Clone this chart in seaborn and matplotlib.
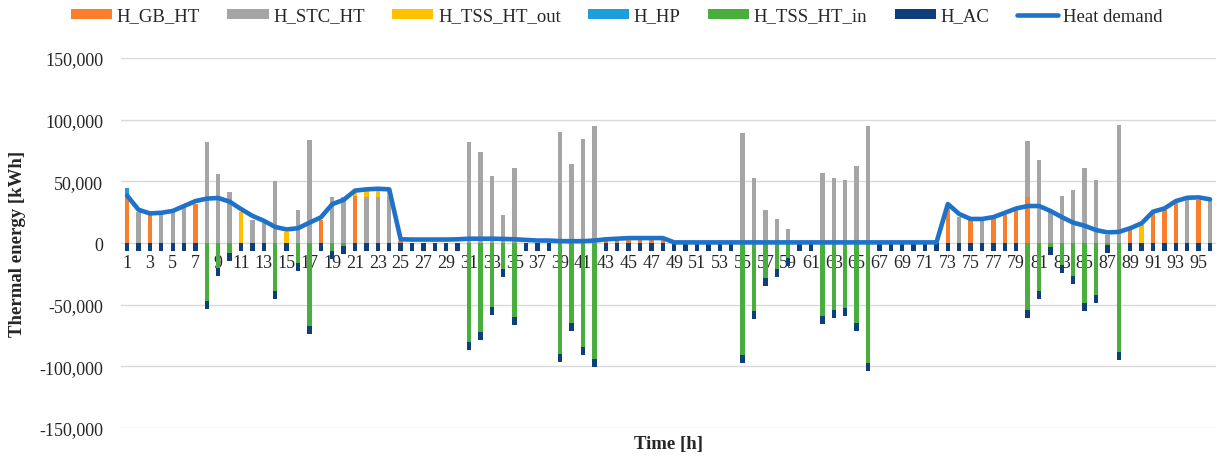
import numpy as np
import pandas as pd
import seaborn as sns
import matplotlib.pyplot as plt
from matplotlib.patches import Patch
from matplotlib.lines import Line2D
from matplotlib.ticker import FuncFormatter

# ---- data (kWh per hour) ----
hours = list(range(1, 97))

h_gb_ht = [37500, 0, 23000, 0, 0, 0, 32000, 0, 0, 0,
           0, 0, 0, 0, 0, 0, 0, 18600, 0, 0,
           38500, 0, 0, 0, 1500, 0, 0, 0, 0, 0,
           0, 0, 0, 0, 0, 0, 0, 0, 0, 0,
           0, 0, 3000, 3500, 4000, 4000, 4000, 4000, 0, 0,
           0, 0, 0, 0, 0, 0, 0, 0, 0, 0,
           0, 0, 0, 0, 0, 0, 0, 0, 0, 0,
           0, 0, 28000, 0, 18600, 0, 20500, 23000, 26500, 37500,
           0, 0, 0, 0, 0, 0, 0, 0, 12000, 0,
           24000, 26700, 33500, 0, 35000, 0]

h_stc_ht = [0, 25400, 0, 23500, 25400, 29400, 0, 82000, 55600, 41000,
            0, 18600, 16000, 50000, 0, 26700, 83400, 0, 37500, 37500,
            0, 37500, 37500, 37500, 0, 0, 0, 0, 0, 0,
            82000, 74000, 54000, 23000, 61000, 0, 0, 0, 90000, 64000,
            84000, 95000, 0, 0, 0, 0, 0, 0, 0, 0,
            0, 0, 0, 0, 89000, 53000, 27000, 19500, 11000, 0,
            0, 57000, 53000, 51000, 62600, 95000, 0, 0, 0, 0,
            0, 0, 0, 21000, 0, 18600, 0, 0, 0, 45000,
            67000, 25400, 38000, 43000, 61000, 51000, 6500, 96000, 0, 0,
            0, 0, 0, 35000, 0, 34000]

h_tss_ht_out = [0, 0, 0, 0, 0, 0, 0, 0, 0, 0,
                25400, 0, 0, 0, 9000, 0, 0, 0, 0, 0,
                3000, 4500, 5000, 5500, 0, 0, 0, 0, 0, 0,
                0, 0, 0, 0, 0, 0, 0, 0, 0, 0,
                0, 0, 0, 0, 0, 0, 0, 0, 0, 0,
                0, 0, 0, 0, 0, 0, 0, 0, 0, 0,
                0, 0, 0, 0, 0, 0, 0, 0, 0, 0,
                0, 0, 0, 0, 0, 0, 0, 0, 0, 0,
                0, 0, 0, 0, 0, 0, 0, 0, 0, 15000,
                0, 0, 0, 0, 0, 0]

h_hp = [7300] + [0] * 95

h_tss_ht_in = [0, 0, 0, 0, 0, 0, 0, -47000, -20500, -8000,
               0, 0, 0, -38800, 0, -16000, -67500, 0, -6600, -2800,
               0, 0, 0, 0, 0, 0, 0, 0, 0, 0,
               -80000, -72000, -52000, -21000, -60000, 0, 0, 0, -90000, -65000,
               -84000, -94000, 0, 0, 0, 0, 0, 0, 0, 0,
               0, 0, 0, 0, -90500, -55000, -28500, -21000, -12500, 0,
               0, -59000, -54000, -53000, -64500, -97000, 0, 0, 0, 0,
               0, 0, 0, 0, 0, 0, 0, 0, 0, -54000,
               -38600, -3000, -18000, -27000, -49000, -42000, -2000, -88000, 0, 0,
               0, 0, 0, 0, 0, 0]

h_ac = [-6500] * 96

heat_demand = [38500, 27000, 24000, 24500, 26000, 30000, 34000, 36000, 36500, 33500,
               27500, 22000, 18000, 13000, 11000, 12000, 16500, 20800, 31500, 35000,
               42500, 43500, 44000, 43500, 3000, 2800, 2800, 2800, 2800, 3000,
               3500, 3500, 3500, 3300, 3000, 2500, 2000, 2000, 1500, 1500,
               1500, 2000, 3000, 3500, 4000, 4000, 4000, 4000, 500, 500,
               500, 500, 500, 500, 500, 500, 500, 500, 500, 500,
               500, 500, 500, 500, 500, 500, 500, 500, 500, 500,
               500, 500, 31600, 23500, 19500, 19500, 21000, 24500, 28000, 30000,
               30000, 26000, 21000, 16500, 14000, 10500, 8600, 9000, 12000, 16000,
               25400, 28000, 34000, 36700, 37000, 35400]

labels = ['H_GB_HT', 'H_STC_HT', 'H_TSS_HT_out', 'H_HP', 'H_TSS_HT_in', 'H_AC']
colors = ['#F97F2C', '#A5A5A5', '#FFC000', '#1F9EDC', '#4AAE3F', '#0E3F7B']
line_color = '#1F72CA'

sns.set_style('white')
plt.rcParams['font.family'] = ['Liberation Serif', 'DejaVu Serif']
fs = 13

fig = plt.figure(figsize=(12.21, 4.6), dpi=100)
ax = fig.add_axes([0.0994, 0.0674, 0.8963, 0.8043])

# stacking: positives go up in legend order, negatives go down
gb = np.array(h_gb_ht)
stc = np.array(h_stc_ht)
out = np.array(h_tss_ht_out)
hp = np.array(h_hp)
tin = np.array(h_tss_ht_in)
ac = np.array(h_ac)

layers = [(gb, np.zeros(96)), (stc, gb), (out, gb + stc), (hp, gb + stc + out),
          (tin, np.zeros(96)), (ac, tin)]

for (vals, bottom), lab, col in zip(layers, labels, colors):
    df = pd.DataFrame({'Hour': hours, 'Value': vals})
    sns.barplot(data=df, x='Hour', y='Value', bottom=bottom, color=col, saturation=1,
                width=0.38, errorbar=None, linewidth=0, ax=ax)

sns.lineplot(x=np.arange(96), y=heat_demand, color=line_color, linewidth=3.3,
             ax=ax, legend=False, solid_joinstyle='round', solid_capstyle='round')

ax.set_xlim(-0.5, 95.5)
ax.set_ylim(-150000, 150000)
ax.set_yticks(range(-150000, 150001, 50000))
ax.yaxis.set_major_formatter(FuncFormatter(lambda v, p: f'{v:,.0f}'))
ax.set_xticks(range(0, 96, 2))
ax.set_xticklabels([str(h) for h in hours[::2]])

ax.yaxis.grid(True, color='#D9D9D9', linewidth=1)
ax.set_axisbelow(True)
for s in ax.spines.values():
    s.set_visible(False)
ax.spines['bottom'].set_position(('data', 0))
ax.tick_params(axis='x', length=0, pad=8, labelsize=fs)
ax.tick_params(axis='y', length=0, pad=13, labelsize=fs)

ax.set_xlabel('Time [h]', fontsize=fs + 0.5, fontweight='bold')
ax.xaxis.set_label_coords(0.5, -0.02)
ax.set_ylabel('Thermal energy [kWh]', fontsize=fs + 0.5, fontweight='bold')
ax.yaxis.set_label_coords(-0.087, 0.5)

handles = [Patch(facecolor=c, edgecolor='none') for c in colors]
handles.append(Line2D([0], [0], color=line_color, linewidth=3.3))
fig.legend(handles, labels + ['Heat demand'], loc='center', bbox_to_anchor=(0.505, 0.963),
           ncol=7, frameon=False, fontsize=fs + 0.5, handlelength=2.2, handleheight=0.45,
           handletextpad=0.25, columnspacing=1.45)

fig.savefig('out.png', dpi=100)
